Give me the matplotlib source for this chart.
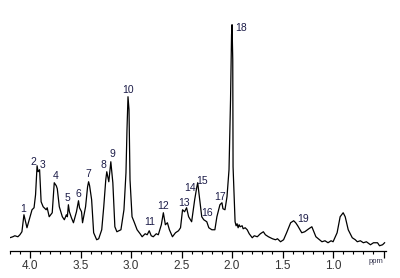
import matplotlib
matplotlib.use("Agg")
import matplotlib.pyplot as plt

# spectrum (ppm, intensity in arbitrary units)
ppm = [4.20, 4.17, 4.15, 4.12, 4.10, 4.08, 4.06, 4.03, 3.98, 3.96, 3.945, 3.93, 3.92, 3.905,
       3.89, 3.87, 3.84, 3.83, 3.81, 3.78, 3.76, 3.74, 3.73, 3.71, 3.68, 3.66,
       3.64, 3.63, 3.62, 3.61, 3.59, 3.57, 3.54, 3.52, 3.51, 3.49, 3.48, 3.45,
       3.43, 3.42, 3.41, 3.39, 3.37, 3.34, 3.32, 3.29, 3.27, 3.25, 3.24, 3.22,
       3.20, 3.18, 3.16, 3.14, 3.10, 3.07, 3.05, 3.04, 3.03, 3.02, 3.01, 2.99,
       2.97, 2.94, 2.91, 2.89, 2.86, 2.84, 2.82, 2.80, 2.78, 2.75, 2.73, 2.70, 2.68, 2.66, 2.64,
       2.62, 2.59, 2.56, 2.53, 2.51, 2.49, 2.47, 2.45, 2.43, 2.40, 2.37, 2.35, 2.34,
       2.32, 2.30, 2.28, 2.25, 2.23, 2.20, 2.17, 2.15, 2.12, 2.10, 2.09, 2.07,
       2.05, 2.03, 2.015, 2.005, 2.00, 1.993, 1.99, 1.97, 1.96, 1.95, 1.94, 1.93,
       1.92, 1.90, 1.89, 1.87, 1.85, 1.83, 1.80, 1.78, 1.75, 1.72, 1.69, 1.67,
       1.64, 1.60, 1.57, 1.55, 1.52, 1.49, 1.46, 1.42, 1.39, 1.37, 1.35,
       1.31, 1.28, 1.24, 1.21, 1.17, 1.11, 1.08, 1.05, 1.02, 1.00, 0.96, 0.93, 0.90, 0.88,
       0.85, 0.81, 0.78, 0.76, 0.73, 0.70, 0.67, 0.63, 0.60, 0.56, 0.54, 0.51, 0.49]
intensity = [13, 14, 15, 14, 16, 19, 36, 23, 41, 43, 56, 85, 79, 81,
             49, 44, 41, 43, 34, 38, 68, 65, 62, 44, 34, 31,
             36, 34, 46, 39, 33, 28, 39, 50, 43, 39, 28, 44,
             64, 69, 65, 51, 18, 11, 12, 21, 44, 71, 79, 69,
             89, 68, 24, 19, 21, 41, 78, 121, 154, 141, 71, 34,
             29, 21, 17, 14, 17, 16, 20, 15, 14, 17, 16, 26, 38, 26, 28,
             21, 14, 18, 20, 23, 41, 39, 43, 34, 29, 51, 63, 68,
             51, 34, 31, 29, 23, 21, 21, 34, 46, 48, 42, 41,
             54, 81, 151, 216, 226, 191, 84, 29, 25, 27, 23, 26,
             24, 25, 22, 23, 21, 17, 13, 15, 14, 17, 19, 16,
             14, 12, 11, 12, 9, 11, 18, 28, 30, 28, 25,
             18, 19, 22, 24, 14, 9, 10, 8, 10, 9, 18, 34, 38, 34,
             21, 13, 11, 9, 10, 8, 9, 6, 8, 8, 5, 6, 8]

# peak numbers and where their labels sit
peak_labels = [str(i) for i in range(1, 20)]
label_ppm = [4.07, 3.97, 3.88, 3.75, 3.63, 3.52, 3.42, 3.27, 3.18, 3.03,
             2.82, 2.68, 2.48, 2.42, 2.30, 2.25, 2.12, 1.91, 1.30]
label_int = [42, 89, 86, 75, 53, 57, 77, 86, 97, 161,
             29, 45, 48, 63, 70, 38, 54, 223, 32]

tick_pos = [4.0, 3.5, 3.0, 2.5, 2.0, 1.5, 1.0, 0.5]
tick_txt = ["4.0", "3.5", "3.0", "2.5", "2.0", "1.5", "1.0", ""]
minor_pos = [4.2, 4.1, 3.9, 3.8, 3.7, 3.6, 3.4, 3.3, 3.2, 3.1, 2.9, 2.8, 2.7, 2.6,
             2.4, 2.3, 2.2, 2.1, 1.9, 1.8, 1.7, 1.6, 1.4, 1.3, 1.2, 1.1,
             0.9, 0.8, 0.7, 0.6]

plt.rcParams['font.family'] = ['Liberation Sans', 'DejaVu Sans']

fig = plt.figure(figsize=(4, 2.78), dpi=100)
ax = fig.add_axes([0.0245, 0.098, 0.9395, 0.83])

ax.plot(ppm, intensity, color="black", lw=0.9)

for lab, x, y in zip(peak_labels, label_ppm, label_int):
    ax.text(x, y, lab, fontsize=7.5, color="#1c1c48", ha="center", va="center")

ax.set_xlim(4.2, 0.48)
ax.set_ylim(0, 230.7)

for s in ["top", "left", "right"]:
    ax.spines[s].set_visible(False)
ax.spines["bottom"].set_linewidth(0.9)
ax.set_yticks([])

ax.set_xticks(tick_pos)
ax.set_xticklabels(tick_txt)
ax.set_xticks(minor_pos, minor=True)
ax.tick_params(axis="x", which="major", length=5, width=0.9, labelsize=8.5,
               labelcolor="#333333", pad=2)
ax.tick_params(axis="x", which="minor", length=2.5, width=0.8)

ax.text(0.975, -0.045, "ppm", transform=ax.transAxes, fontsize=5.5,
        color="#33334d", ha="center", va="center")

fig.savefig("out.png", dpi=100)
